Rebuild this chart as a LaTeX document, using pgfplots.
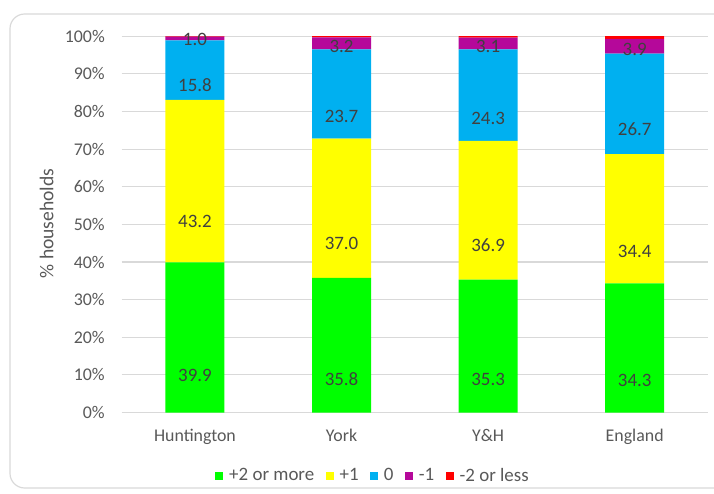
\documentclass[border=0pt]{standalone}
\usepackage{pgfplots}
\pgfplotsset{compat=1.18}
\usepackage{fontspec}
\setmainfont{Carlito}
\definecolor{gridgray}{HTML}{D9D9D9}
\definecolor{framegray}{HTML}{D9D9D9}
\definecolor{txtgray}{HTML}{595959}
\definecolor{lblgray}{HTML}{404040}
\definecolor{cgreen}{HTML}{00FF00}
\definecolor{cyellow}{HTML}{FFFF00}
\definecolor{cblue}{HTML}{00B0F0}
\definecolor{cpurple}{HTML}{B5089A}
\definecolor{cred}{HTML}{FF0000}

\begin{document}
\fontsize{13.4}{16}\selectfont
\begin{tikzpicture}[x=0.75pt,y=0.75pt]
\useasboundingbox (0,0) rectangle (714,493);
% chart area frame
\draw[framegray, line width=0.9pt, rounded corners=11pt] (10,5) rectangle (740,479);
\node[rotate=90, text=txtgray, inner sep=0pt, font=\fontsize{14.7}{17}\selectfont]
  at (46.7,269.5) {\% households};
\begin{axis}[
  at={(91.275pt,60.375pt)}, anchor=south west,
  scale only axis, width=439.7pt, height=282.2pt,
  ybar stacked, bar width=44.25pt,
  xmin=-0.5, xmax=3.5, ymin=0, ymax=100,
  xtick={0,1,2,3}, xticklabels={Huntington,York,Y\&H,England},
  ytick={0,10,...,100},
  yticklabel={\pgfmathprintnumber{\tick}\%},
  /pgf/number format/assume math mode=true,
  major tick length=0pt,
  axis lines=left,
  axis line style={draw=none},
  ymajorgrids, grid style={gridgray, line width=0.9pt},
  yticklabel style={anchor=east, inner sep=0pt, xshift=-12.5pt, text=txtgray},
  xticklabel style={anchor=base, inner sep=0pt, yshift=-21.4pt, text=txtgray},
  legend style={at={(0.4286,-0.1688)}, anchor=center, draw=none, fill=none,
    legend columns=-1, text=txtgray, inner sep=0pt,
    font=\fontsize{14.2}{17}\selectfont,
    nodes={inner sep=1.5pt},
    /tikz/every odd column/.append style={column sep=3pt},
    /tikz/every even column/.append style={column sep=7pt}},
  legend image code/.code={\fill[#1] (0pt,-3pt) rectangle (6pt,3pt);},
  every node near coord/.append style={anchor=center, text=lblgray,
    font=\fontsize{14.2}{17}\selectfont,
    yshift=-0.7055pt*\pgfplotspointmeta},
]
\addplot[fill=cgreen, draw=none, nodes near coords, point meta=explicit symbolic]
  coordinates {(0,39.9)[39.9] (1,35.8)[35.8] (2,35.3)[35.3] (3,34.3)[34.3]};
\addplot[fill=cyellow, draw=none, nodes near coords, point meta=explicit symbolic]
  coordinates {(0,43.2)[43.2] (1,37.0)[37.0] (2,36.9)[36.9] (3,34.4)[34.4]};
\addplot[fill=cblue, draw=none, nodes near coords, point meta=explicit symbolic]
  coordinates {(0,15.8)[15.8] (1,23.7)[23.7] (2,24.3)[24.3] (3,26.7)[26.7]};
\addplot[fill=cpurple, draw=none, nodes near coords, point meta=explicit symbolic]
  coordinates {(0,1.0)[1.0] (1,3.2)[3.2] (2,3.1)[3.1] (3,3.9)[3.9]};
\addplot[fill=cred, draw=none]
  coordinates {(0,0.1) (1,0.3) (2,0.4) (3,0.7)};
\legend{+2 or more,+1,0,-1,-2 or less}
\end{axis}
\end{tikzpicture}
\end{document}
